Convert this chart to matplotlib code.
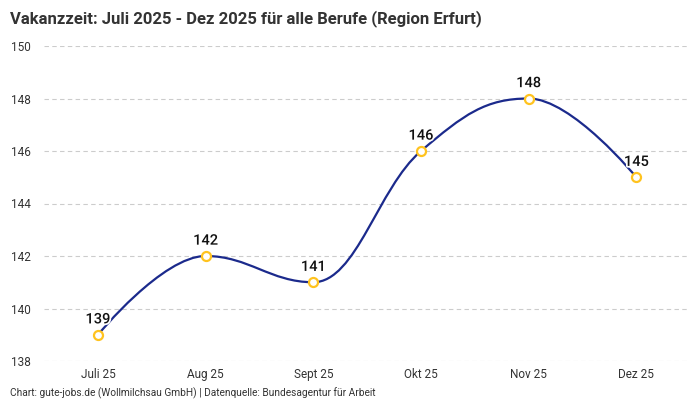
import matplotlib.pyplot as plt
import matplotlib.patheffects as pe
from matplotlib.path import Path
from matplotlib.patches import PathPatch
import numpy as np

plt.rcParams['font.family'] = ['Roboto', 'DejaVu Sans']

months = ['Juli 25', 'Aug 25', 'Sept 25', 'Okt 25', 'Nov 25', 'Dez 25']
vakanzzeit = [139, 142, 141, 146, 148, 145]

title = 'Vakanzzeit: Juli 2025 - Dez 2025 für alle Berufe (Region Erfurt)'
footer = 'Chart: gute-jobs.de (Wollmilchsau GmbH) | Datenquelle: Bundesagentur für Arbeit'

line_color = '#1b2a8c'
marker_color = '#ffc31f'
text_color = '#333333'


def spline_path(xs, ys, smoothing=1.5):
    # highcharts-style spline control points
    n = len(xs)
    left = [None] * n
    right = [None] * n
    for i in range(n):
        if 0 < i < n - 1:
            d = smoothing + 1
            lx = (smoothing * xs[i] + xs[i - 1]) / d
            ly = (smoothing * ys[i] + ys[i - 1]) / d
            rx = (smoothing * xs[i] + xs[i + 1]) / d
            ry = (smoothing * ys[i] + ys[i + 1]) / d
            corr = (ry - ly) * (rx - xs[i]) / (rx - lx) + ys[i] - ry
            ly += corr
            ry += corr
            hi, lo = max(ys[i - 1], ys[i]), min(ys[i - 1], ys[i])
            if ly > hi:
                ly = hi
                ry = 2 * ys[i] - ly
            elif ly < lo:
                ly = lo
                ry = 2 * ys[i] - ly
            hi, lo = max(ys[i + 1], ys[i]), min(ys[i + 1], ys[i])
            if ry > hi:
                ry = hi
                ly = 2 * ys[i] - ry
            elif ry < lo:
                ry = lo
                ly = 2 * ys[i] - ry
            left[i] = (lx, ly)
            right[i] = (rx, ry)
        else:
            left[i] = (xs[i], ys[i])
            right[i] = (xs[i], ys[i])
    verts = [(xs[0], ys[0])]
    codes = [Path.MOVETO]
    for i in range(1, n):
        verts += [right[i - 1], left[i], (xs[i], ys[i])]
        codes += [Path.CURVE4] * 3
    return Path(verts, codes)


fig = plt.figure(figsize=(7, 4), dpi=100)
ax = fig.add_axes([0.063, 0.0975, 0.923, 0.7875])

x = np.arange(len(months))
ax.add_patch(PathPatch(spline_path(list(x), vakanzzeit), fill=False,
                       edgecolor=line_color, lw=1.6, zorder=3))
ax.plot(x, vakanzzeit, 'o', ms=6.5, mfc='white', mec=marker_color, mew=1.6, zorder=4)

for xi, v in zip(x, vakanzzeit):
    ax.annotate(str(v), (xi, v), xytext=(0, 6), textcoords='offset points',
                ha='center', va='bottom', fontsize=10.5, fontweight='medium', color='#111111',
                path_effects=[pe.withStroke(linewidth=2.5, foreground='white')], zorder=5)

ax.set_xlim(-0.5, 5.5)
ax.set_ylim(138, 150)
ax.set_yticks(range(138, 151, 2))
ax.set_xticks(x)
ax.set_xticklabels(months)
ax.grid(axis='y', ls=(0, (4, 3)), color='#cccccc', lw=0.8)
ax.set_axisbelow(True)
for s in ax.spines.values():
    s.set_visible(False)
ax.tick_params(length=0, colors=text_color, labelsize=8.5)
ax.tick_params(axis='x', pad=5)
for lbl in ax.get_yticklabels():
    lbl.set_horizontalalignment('left')
ax.tick_params(axis='y', pad=24)

fig.text(0.014, 0.975, title, fontsize=12, fontweight='bold', color=text_color,
         ha='left', va='top')
fig.text(0.014, 0.017, footer, fontsize=7.3, color=text_color, ha='left', va='center')

fig.savefig('out.png', dpi=100)
